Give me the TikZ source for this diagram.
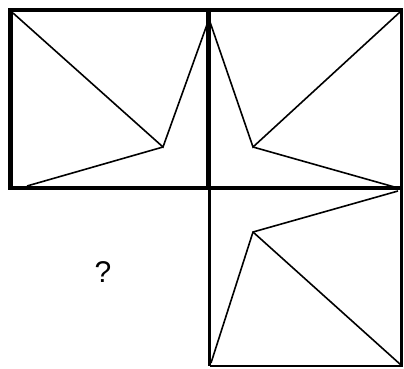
\documentclass[tikz,border=0pt]{standalone}
\usepackage{fontspec}
\setmainfont{Liberation Sans}
\usepackage{tikz}

\begin{document}
\begin{tikzpicture}[x=1pt,y=-1pt,
    frame/.style={line width=4.5pt},
    thinframe/.style={line width=2.2pt},
    stroke/.style={line width=1.6pt}]

\useasboundingbox (0,0) rectangle (404,368);

% Vertices of the three panels
\coordinate (apex) at (209,19);
\coordinate (pl) at (163,147);
\coordinate (pr) at (253,147);
\coordinate (pb) at (253,232);

% Upper frames
\draw[frame] (10.5,10) rectangle (208.5,188);
\draw[frame] (208.5,10) -- (401.5,10);
\draw[frame] (208.5,188) -- (401.5,188);
\draw[thinframe] (401.5,8) -- (401.5,190);

% Lower frame
\draw[line width=3.5pt] (209.5,188) -- (209.5,366);
\draw[thinframe] (209.5,366) -- (401.5,366) -- (401.5,188);

% Left panel
\draw[stroke] (13,13) -- (pl) -- (apex);
\draw[stroke] (pl) -- (27,186);

% Right panel
\draw[stroke] (apex) -- (pr) -- (400,12);
\draw[stroke] (pr) -- (398,188);

% Lower panel
\draw[stroke] (398,191) -- (pb) -- (211,363);
\draw[stroke] (pb) -- (401,365);

% Missing panel
\node (ask) at (103,272) {\fontsize{30}{30}\selectfont ?};

\end{tikzpicture}
\end{document}
